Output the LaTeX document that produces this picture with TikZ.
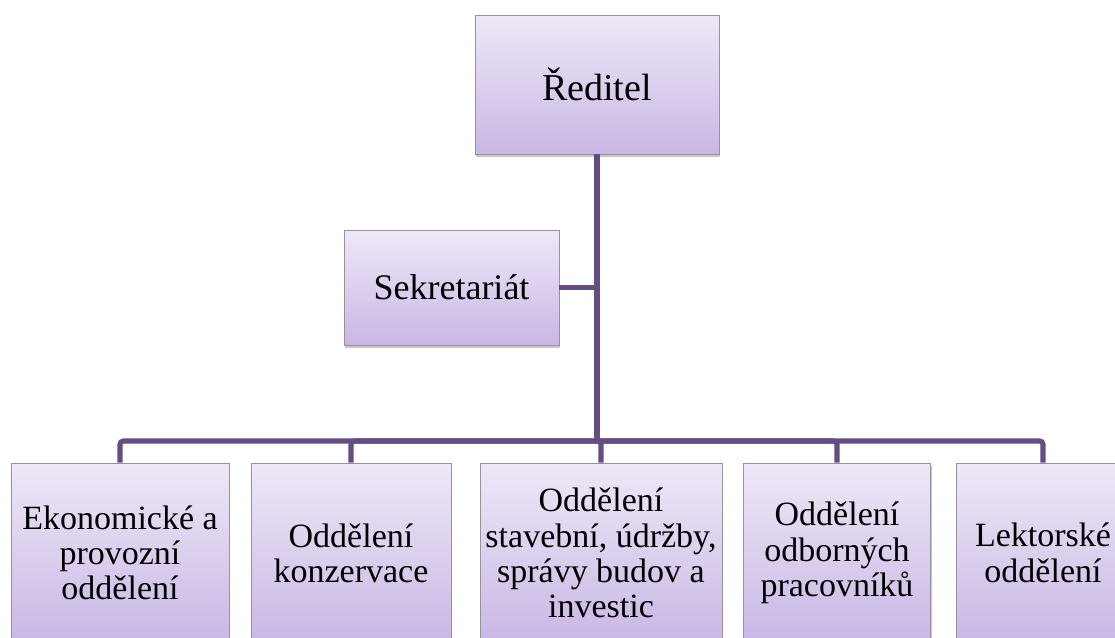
\documentclass[tikz,border=0pt]{standalone}
\usepackage{fontspec}
\newfontfamily\orgfont{Liberation Serif}
\usetikzlibrary{shadows}
\definecolor{boxtop}{RGB}{238,232,247}
\definecolor{boxbot}{RGB}{201,183,229}
\definecolor{linkcol}{RGB}{99,77,131}
\definecolor{boxline}{RGB}{150,146,156}
\definecolor{shadecol}{RGB}{200,200,200}
\tikzset{
  orgbox/.style={draw=boxline, line width=0.6pt, top color=boxtop, bottom color=boxbot,
    align=center, inner sep=2pt, font=\orgfont\fontsize{25.5}{26.5}\selectfont,
    drop shadow={shadow xshift=1pt, shadow yshift=-2pt, fill=shadecol, opacity=1}},
  link/.style={draw=linkcol, line width=3.8pt, rounded corners=2.5pt}
}
\begin{document}
\begin{tikzpicture}[x=0.75pt, y=-0.75pt]
\useasboundingbox (0,0) rectangle (1115,637);
\node[orgbox, minimum width=183pt, minimum height=104.25pt, font=\orgfont\fontsize{28.5}{30}\selectfont] (dir) at (597,84.5) {Ředitel};
\node[orgbox, minimum width=161.25pt, minimum height=86.25pt, font=\orgfont\fontsize{27}{28}\selectfont] (sek) at (451.5,287.5) {Sekretariát};
\node[orgbox, minimum width=163.5pt, minimum height=135pt] (eko) at (120,553) {Ekonomické a\\provozní\\oddělení};
\node[orgbox, minimum width=150pt, minimum height=135pt] (kon) at (351,553) {Oddělení\\konzervace};
\node[orgbox, minimum width=181.5pt, minimum height=135pt] (sta) at (601,553) {Oddělení\\stavební, údržby,\\správy budov a\\investic};
\node[orgbox, minimum width=140.25pt, minimum height=135pt] (odb) at (837,553) {Oddělení\\odborných\\pracovníků};
\node[orgbox, minimum width=130.5pt, minimum height=135pt] (lek) at (1043,553) {Lektorské\\oddělení};
\coordinate (bus) at (597,441);
\draw[link] (dir.south) -- (bus);
\draw[link] (sek.east) -- (sek.east -| bus);
\foreach \n in {eko,kon,sta,odb,lek}
  \draw[link] (bus) -| (\n.north);
\end{tikzpicture}
\end{document}
